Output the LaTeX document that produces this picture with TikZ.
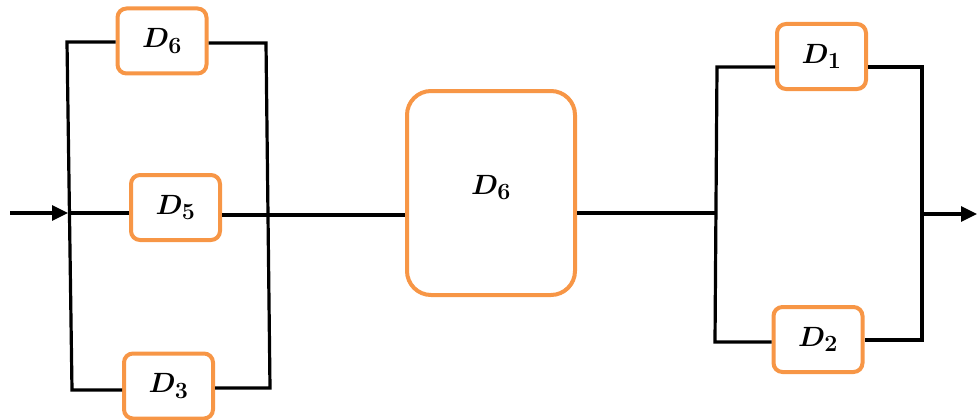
\documentclass[tikz,border=0pt]{standalone}
\usepackage{amsmath,bm,graphicx}
\usetikzlibrary{arrows.meta}
\definecolor{devorange}{RGB}{247,150,70}
\newcommand{\dlab}[1]{\scalebox{1.12}{$\bm{D_{#1}}$}}
\begin{document}
\begin{tikzpicture}[x=1pt,y=-1pt,
  dev/.style={draw=devorange, line width=4pt, rounded corners=9pt, fill=white,
    minimum width=89pt, minimum height=65pt, inner sep=0pt,
    font=\Huge},
  wire/.style={line width=3.2pt, black},
  tip/.style={-{Triangle[length=16pt,width=15pt]}}
]
\useasboundingbox (0,0) rectangle (977,420);
% left group
\node[dev] (da) at (162,41) {\raisebox{-3pt}{\dlab{6}}};
\node[dev] (db) at (175.5,207.5) {\raisebox{-2pt}{\dlab{5}}};
\node[dev] (dc) at (168.5,386) {\dlab{3}};
% middle
\node[dev, minimum width=168pt, minimum height=204pt, rounded corners=24pt] (dm) at (491,193) {\raisebox{16pt}{\dlab{6}}};
% right group
\node[dev] (dd) at (821.5,56.5) {\dlab{1}};
\node[dev] (de) at (818,339.5) {\dlab{2}};

\coordinate (in) at (10,213);
\coordinate (lt) at (67,42);
\coordinate (lm) at (68,213);
\coordinate (lb) at (72,390);
\coordinate (rt) at (266,43);
\coordinate (rb) at (270,388);
\coordinate (m1) at (268,215);
\coordinate (m2) at (715,213);
\coordinate (qt) at (717,67);
\coordinate (qb) at (715,342);
\coordinate (st) at (922,67);
\coordinate (sb) at (922,340);
\coordinate (sm) at (922,214);
\coordinate (out) at (977,214);

% left split
\draw[wire,tip] (in) -- (lm);
\draw[wire] (da.west |- lt) -- (lt) -- (lb) -- (lb -| dc.west);
\draw[wire] (lm) -- (lm -| db.west);
\draw[wire] (da.east |- rt) -- (rt) -- (rb) -- (rb -| dc.east);
\draw[wire] (db.east |- m1) -- (m1) -- (m1 -| dm.west);
% middle to right
\draw[wire] (dm.east |- m2) -- (m2);
\draw[wire] (dd.west |- qt) -- (qt) -- (qb) -- (qb -| de.west);
\draw[wire] (dd.east |- st) -- (st) -- (sb) -- (sb -| de.east);
\draw[wire,tip] (sm) -- (out);
\end{tikzpicture}
\end{document}
